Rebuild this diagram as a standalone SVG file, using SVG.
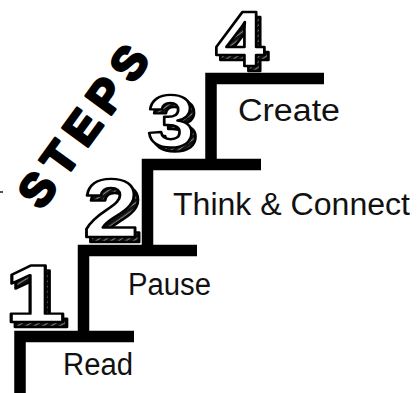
<svg xmlns="http://www.w3.org/2000/svg" width="418" height="393" viewBox="0 0 418 393">
  <defs>
    <pattern id="hatch" width="4" height="4" patternUnits="userSpaceOnUse" patternTransform="rotate(-40)">
      <rect width="4" height="4" fill="#111"/>
      <line x1="0" y1="1" x2="4" y2="1" stroke="#aaa" stroke-width="0.8"/>
    </pattern>
  </defs>
  <style>
    .stair { fill: none; stroke: #000; stroke-width: 11.5; stroke-linecap: butt; stroke-linejoin: miter; }
    .label { font-family: "Liberation Sans", Arial, sans-serif; font-size: 31px; fill: #111; }
    .num { font-family: "Liberation Sans", Arial, sans-serif; font-weight: bold; text-anchor: middle; stroke: #000; stroke-width: 2.4; stroke-linejoin: round; }
    .num-shadow { fill: url(#hatch); }
    .num-face { fill: #fff; }
    .title { font-family: "Liberation Sans", Arial, sans-serif; font-weight: 900; font-size: 46px; fill: #000; stroke: #000; stroke-width: 2.8; stroke-linejoin: round; text-anchor: middle; letter-spacing: 9px; }
  </style>
  <rect width="418" height="393" fill="#fff"/>

  <g id="title">
    <text class="title" transform="translate(82,126) rotate(-54)" x="5" y="17">STEPS</text>
    <rect x="0" y="191" width="3" height="2" fill="#555"/>
  </g>

  <g id="connectors">
    <path class="stair" d="M20,393 V336.5 H134"/>
    <path class="stair" d="M83.5,336.5 V250.5 H197"/>
    <path class="stair" d="M147.5,250.5 V164.5 H261"/>
    <path class="stair" d="M211,164.5 V78.5 H324"/>
  </g>

  <g id="step1">
    <text class="num num-shadow" transform="translate(39,327) scale(1.35,1)" font-size="82">1</text>
    <text class="num num-face" transform="translate(35,322) scale(1.35,1)" font-size="82">1</text>
    <text class="label" x="63" y="375" textLength="70" lengthAdjust="spacingAndGlyphs">Read</text>
  </g>

  <g id="step2">
    <text class="num num-shadow" transform="translate(115,242) scale(1.2,1)" font-size="84">2</text>
    <text class="num num-face" transform="translate(111,237) scale(1.2,1)" font-size="84">2</text>
    <text class="label" x="128" y="295" textLength="83" lengthAdjust="spacingAndGlyphs">Pause</text>
  </g>

  <g id="step3">
    <text class="num num-shadow" transform="translate(175,151) scale(1.15,1)" font-size="74">3</text>
    <text class="num num-face" transform="translate(171,147) scale(1.15,1)" font-size="74">3</text>
    <text class="label" x="173" y="215" textLength="237" lengthAdjust="spacingAndGlyphs">Think &amp; Connect</text>
  </g>

  <g id="step4">
    <text class="num num-shadow" transform="translate(244,71) scale(1.15,1)" font-size="78">4</text>
    <text class="num num-face" transform="translate(240,66) scale(1.15,1)" font-size="78">4</text>
    <text class="label" x="238" y="121" textLength="102" lengthAdjust="spacingAndGlyphs">Create</text>
  </g>
</svg>
